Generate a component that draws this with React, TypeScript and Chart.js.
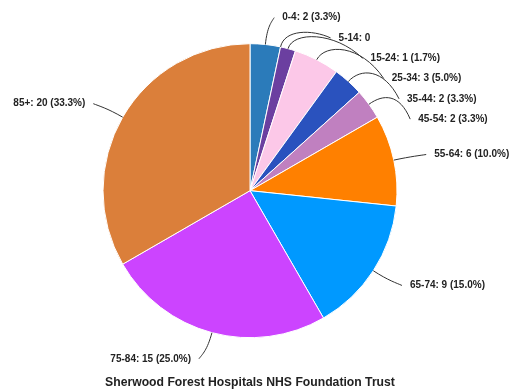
import React, { useEffect, useRef } from "react";
import { Chart, registerables } from "chart.js";

Chart.register(...registerables);

const categories = ["0-4", "5-14", "15-24", "25-34", "35-44", "45-54", "55-64", "65-74", "75-84", "85+"];
const counts = [2, 0, 1, 3, 2, 2, 6, 9, 15, 20];
const sliceColors = ["#2b7bba", "#e0e0e0", "#6b3fa0", "#fcc8e8", "#2a52be", "#c080c0", "#ff8000", "#0099ff", "#cc44ff", "#db7f3a"];
const titleText = "Sherwood Forest Hospitals NHS Foundation Trust";

const FONT = "'Liberation Sans', Arial, sans-serif";

const outLabels = {
  id: "outLabels",
  afterDatasetsDraw(chart: any) {
    const meta = chart.getDatasetMeta(0);
    const ctx = chart.ctx as CanvasRenderingContext2D;
    const total = counts.reduce((a, b) => a + b, 0);
    const items = meta.data.map((arc: any, i: number) => {
      const cx = arc.x, cy = arc.y, r = arc.outerRadius;
      const mid = (arc.startAngle + arc.endAngle) / 2;
      const R = r + 27;
      const cos = Math.cos(mid), sin = Math.sin(mid);
      const v = counts[i];
      const text = v === 0 ? `${categories[i]}: ${v}` : `${categories[i]}: ${v} (${((v / total) * 100).toFixed(1)}%)`;
      return { i, cx, cy, r, R, mid, cos, sin, right: cos >= 0, x: cx + R * cos, y: cy + R * sin, text, shifted: false };
    });
    const right = items.filter((it: any) => it.right);
    const left = items.filter((it: any) => !it.right);
    const gap = 20.3;
    for (let k = 1; k < right.length; k++) {
      const prev = right[k - 1];
      const it = right[k];
      if (it.y < prev.y + gap) {
        it.y = prev.y + gap;
        it.shifted = true;
        const dy = it.y - it.cy;
        const Rs = it.R - 4;
        if (Math.abs(dy) < Rs) it.x = it.cx + Math.sqrt(Rs * Rs - dy * dy);
      }
    }
    for (let k = 1; k < left.length; k++) {
      const prev = left[k - 1];
      const it = left[k];
      if (it.y > prev.y - gap) {
        it.y = prev.y - gap;
        it.shifted = true;
        const dy = it.y - it.cy;
        if (Math.abs(dy) < it.R) it.x = it.cx - Math.sqrt(it.R * it.R - dy * dy);
      }
    }
    ctx.save();
    ctx.strokeStyle = "#333";
    ctx.lineWidth = 1;
    ctx.font = `bold 10px ${FONT}`;
    ctx.fillStyle = "#222";
    ctx.textBaseline = "middle";
    items.forEach((it: any) => {
      const side = it.right ? 1 : -1;
      const p0x = it.cx + it.r * it.cos;
      const p0y = it.cy + it.r * it.sin;
      const c1x = it.cx + (it.r + 18) * it.cos;
      const c1y = it.cy + (it.r + 18) * it.sin;
      const ex = it.x + side * 6;
      const ey = it.y;
      const c2x = c1x + (ex - c1x) * 0.6;
      const c2y = it.shifted ? c1y : c1y + (ey - c1y) * 0.5;
      ctx.beginPath();
      ctx.moveTo(p0x, p0y);
      ctx.bezierCurveTo(c1x, c1y, c2x, c2y, ex, ey);
      ctx.stroke();
      ctx.textAlign = it.right ? "left" : "right";
      ctx.fillText(it.text, it.x + side * 14, it.y);
    });
    ctx.restore();
  },
};

export default function App() {
  const ref = useRef<HTMLCanvasElement | null>(null);
  useEffect(() => {
    document.body.style.margin = "0";
    const canvas = ref.current!;
    const chart = new Chart(canvas, {
      type: "pie",
      data: {
        labels: categories,
        datasets: [
          {
            data: counts,
            backgroundColor: sliceColors,
            borderColor: "#ffffff",
            borderWidth: 1,
          },
        ],
      },
      options: {
        responsive: false,
        animation: false,
        radius: 147,
        layout: { padding: { top: 6, left: 0, right: 10, bottom: 0 } },
        plugins: {
          legend: { display: false },
          tooltip: { enabled: false },
          title: {
            display: true,
            text: titleText,
            position: "bottom",
            color: "#222",
            font: { size: 12.2, weight: "bold", family: FONT },
            padding: { top: 0, bottom: 2 },
          },
        },
      } as any,
      plugins: [outLabels],
    });
    return () => chart.destroy();
  }, []);
  return <canvas ref={ref} width={510} height={392} style={{ display: "block" }} />;
}
